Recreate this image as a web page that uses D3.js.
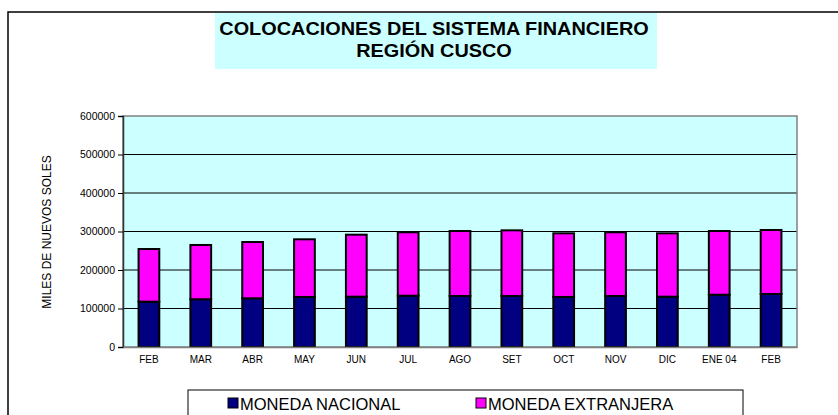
<!DOCTYPE html>
<html>
<head>
<meta charset="utf-8">
<script src="https://cdn.jsdelivr.net/npm/d3@7"></script>
<style>
  body { margin: 0; background: #fff; }
  svg { display: block; font-family: Arial, "Liberation Sans", sans-serif; }
</style>
</head>
<body>
<svg width="838" height="415"></svg>
<script>
// datos
var meses = ["FEB", "MAR", "ABR", "MAY", "JUN", "JUL", "AGO", "SET", "OCT", "NOV", "DIC", "ENE 04", "FEB"];
var nacional = [117700, 124000, 126500, 130000, 130700, 133200, 132500, 132500, 130000, 132500, 130700, 135800, 137700];
var extranjera = [136800, 141000, 146200, 149700, 161000, 164800, 168800, 170500, 165300, 165500, 164600, 165500, 166200];
var yTicks = [0, 100000, 200000, 300000, 400000, 500000, 600000];
var series = ["MONEDA NACIONAL", "MONEDA EXTRANJERA"];
var colores = ["#000080", "#FF00FF"];

var svg = d3.select("svg"),
    margin = {top: 116, right: 41, bottom: 68, left: 123},
    w = +svg.attr("width") - margin.left - margin.right,
    h = +svg.attr("height") - margin.top - margin.bottom;

// marco exterior
svg.append("rect")
  .attr("x", 8).attr("y", 12)
  .attr("width", 840).attr("height", 420)
  .attr("fill", "none")
  .attr("stroke", "#000")
  .attr("stroke-width", 1.5);

// titulo
svg.append("rect")
  .attr("x", 215).attr("y", 13)
  .attr("width", 442).attr("height", 56)
  .attr("fill", "#CCFFFF");

svg.append("text")
  .attr("transform", "translate(434,35) scale(1.075,1)")
  .attr("text-anchor", "middle")
  .attr("font-weight", "bold")
  .attr("font-size", "18.5px")
  .text("COLOCACIONES DEL SISTEMA FINANCIERO");

svg.append("text")
  .attr("transform", "translate(434,57) scale(1.075,1)")
  .attr("text-anchor", "middle")
  .attr("font-weight", "bold")
  .attr("font-size", "18.5px")
  .text("REGIÓN CUSCO");

var g = svg.append("g").attr("transform", "translate(" + margin.left + "," + margin.top + ")");

var xScale = d3.scaleBand()
  .domain(d3.range(meses.length))
  .range([0, w])
  .paddingInner(0.6)
  .paddingOuter(0.3);

var yScale = d3.scaleLinear()
  .domain([0, 600000])
  .range([h, 0]);

g.append("rect")
  .attr("width", w).attr("height", h)
  .attr("fill", "#CCFFFF");

// lineas de division
g.selectAll(".grid")
  .data(yTicks.slice(1, -1))
  .enter().append("line")
  .attr("x1", 0).attr("x2", w)
  .attr("y1", function(d) { return yScale(d); })
  .attr("y2", function(d) { return yScale(d); })
  .attr("stroke", "#000")
  .attr("stroke-width", 1);

g.append("rect")
  .attr("width", w).attr("height", h)
  .attr("fill", "none")
  .attr("stroke", "#808080")
  .attr("stroke-width", 1.5);

// barras apiladas
var filas = meses.map(function(m, i) { return {i: i, nac: nacional[i], ext: extranjera[i]}; });
var stack = d3.stack().keys(["nac", "ext"])(filas);

g.selectAll(".serie")
  .data(stack)
  .enter().append("g")
  .attr("fill", function(d, k) { return colores[k]; })
  .selectAll("rect")
  .data(function(d) { return d; })
  .enter().append("rect")
  .attr("x", function(d) { return xScale(d.data.i); })
  .attr("y", function(d) { return yScale(d[1]); })
  .attr("width", xScale.bandwidth())
  .attr("height", function(d) { return yScale(d[0]) - yScale(d[1]); })
  .attr("stroke", "#000")
  .attr("stroke-width", 2);

// ejes
var yAxis = g.append("g")
  .call(d3.axisLeft(yScale).tickValues(yTicks).tickSize(5).tickPadding(3).tickFormat(d3.format("d")));
yAxis.select(".domain").attr("stroke", "#333").attr("stroke-width", 1.5);
yAxis.selectAll("text").attr("font-size", "10.5px").attr("fill", "#000").attr("font-family", "Arial, 'Liberation Sans', sans-serif");

var xAxis = g.append("g")
  .attr("transform", "translate(0," + h + ")")
  .call(d3.axisBottom(xScale).tickSize(0).tickPadding(9).tickFormat(function(i) { return meses[i]; }));
xAxis.select(".domain").attr("stroke", "#808080").attr("stroke-width", 1.5);
xAxis.selectAll("text").attr("font-size", "10px").attr("fill", "#000").attr("font-family", "Arial, 'Liberation Sans', sans-serif");

svg.append("text")
  .attr("transform", "translate(51,232) rotate(-90)")
  .attr("text-anchor", "middle")
  .attr("font-size", "12px")
  .text("MILES DE NUEVOS SOLES");

// leyenda
svg.append("rect")
  .attr("x", 188).attr("y", 390)
  .attr("width", 555).attr("height", 40)
  .attr("fill", "#fff")
  .attr("stroke", "#000")
  .attr("stroke-width", 1);

var legendX = [228, 476];
var ley = svg.selectAll(".ley")
  .data(series)
  .enter().append("g")
  .attr("transform", function(d, k) { return "translate(" + legendX[k] + ",398)"; });

ley.append("rect")
  .attr("width", 10).attr("height", 10)
  .attr("fill", function(d, k) { return colores[k]; })
  .attr("stroke", "#000")
  .attr("stroke-width", 1);

ley.append("text")
  .attr("x", 12).attr("y", 12)
  .attr("font-size", "16.5px")
  .text(function(d) { return d; });
</script>
</body>
</html>
